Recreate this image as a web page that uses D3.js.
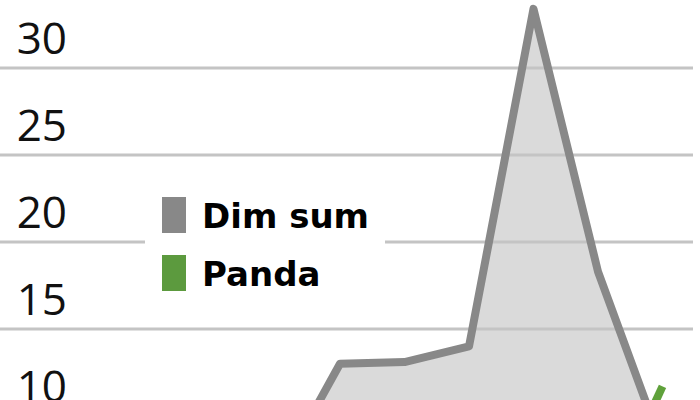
<!DOCTYPE html>
<html lang="en">
<head>
    <meta charset="UTF-8">
    <title>Dim sum vs Panda</title>
    <script src="https://d3js.org/d3.v7.min.js"></script>
    <style>
        body { margin: 0; background: #fff; }
        svg { display: block; }
    </style>
</head>
<body>
    <script>
        // data (only the visible part of the chart)
        const periods = [4, 5, 6, 7, 8, 9, 10];
        const dimSum = [6.3, 13.0, 13.1, 14.0, 33.4, 18.3, 8.2];
        const pandaPeriods = [9, 10];
        const panda = [3.7, 11.7];
        const yTicks = [10, 15, 20, 25, 30];
        const legendItems = ['Dim sum', 'Panda'];
        const legendColors = ['#888888', '#5c9a3e'];

        const width = 700, height = 400;

        const svg = d3.select('body').append('svg')
            .attr('width', width)
            .attr('height', height);

        const x = d3.scaleLinear().domain([0, 10]).range([17.5, 662.5]);
        const y = d3.scaleLinear().domain([0, 30]).range([590, 68]);

        const dimData = periods.map((p, i) => ({ p: p, v: dimSum[i] }));
        const pandaData = pandaPeriods.map((p, i) => ({ p: p, v: panda[i] }));

        // area fill first
        const area = d3.area()
            .x(d => x(d.p))
            .y0(y(0))
            .y1(d => y(d.v));

        svg.append('path')
            .datum(dimData)
            .attr('d', area)
            .attr('fill', '#dadada');

        // gridlines + labels
        const grid = svg.append('g');
        grid.selectAll('line')
            .data(yTicks)
            .enter().append('line')
            .attr('x1', 0)
            .attr('x2', 693)
            .attr('y1', d => y(d))
            .attr('y2', d => y(d))
            .attr('stroke', '#c4c4c4')
            .attr('stroke-width', 3);

        grid.selectAll('text')
            .data(yTicks)
            .enter().append('text')
            .attr('x', 67)
            .attr('y', d => y(d) - 14)
            .attr('text-anchor', 'end')
            .attr('font-family', '"Open Sans", sans-serif')
            .attr('font-size', 44)
            .attr('fill', '#111')
            .text(d => d);

        // lines
        const line = d3.line()
            .x(d => x(d.p))
            .y(d => y(d.v));

        svg.append('path')
            .datum(dimData)
            .attr('d', line)
            .attr('fill', 'none')
            .attr('stroke', '#888888')
            .attr('stroke-width', 8)
            .attr('stroke-linejoin', 'round');

        svg.append('path')
            .datum(pandaData)
            .attr('d', line)
            .attr('fill', 'none')
            .attr('stroke', '#5fa13b')
            .attr('stroke-width', 8);

        // legend (white box breaks the gridline)
        const legend = svg.append('g');
        legend.append('rect')
            .attr('x', 145)
            .attr('y', 185)
            .attr('width', 240)
            .attr('height', 115)
            .attr('fill', '#fff');

        const item = legend.selectAll('g.item')
            .data(legendItems)
            .enter().append('g')
            .attr('class', 'item')
            .attr('transform', (d, i) => `translate(162, ${197 + i * 58})`);

        item.append('rect')
            .attr('width', 24)
            .attr('height', 36)
            .attr('fill', (d, i) => legendColors[i]);

        item.append('text')
            .attr('x', 40)
            .attr('y', 31)
            .attr('font-family', '"DejaVu Sans", sans-serif')
            .attr('font-weight', 'bold')
            .attr('font-size', 34)
            .attr('fill', '#000')
            .text(d => d);
    </script>
</body>
</html>
